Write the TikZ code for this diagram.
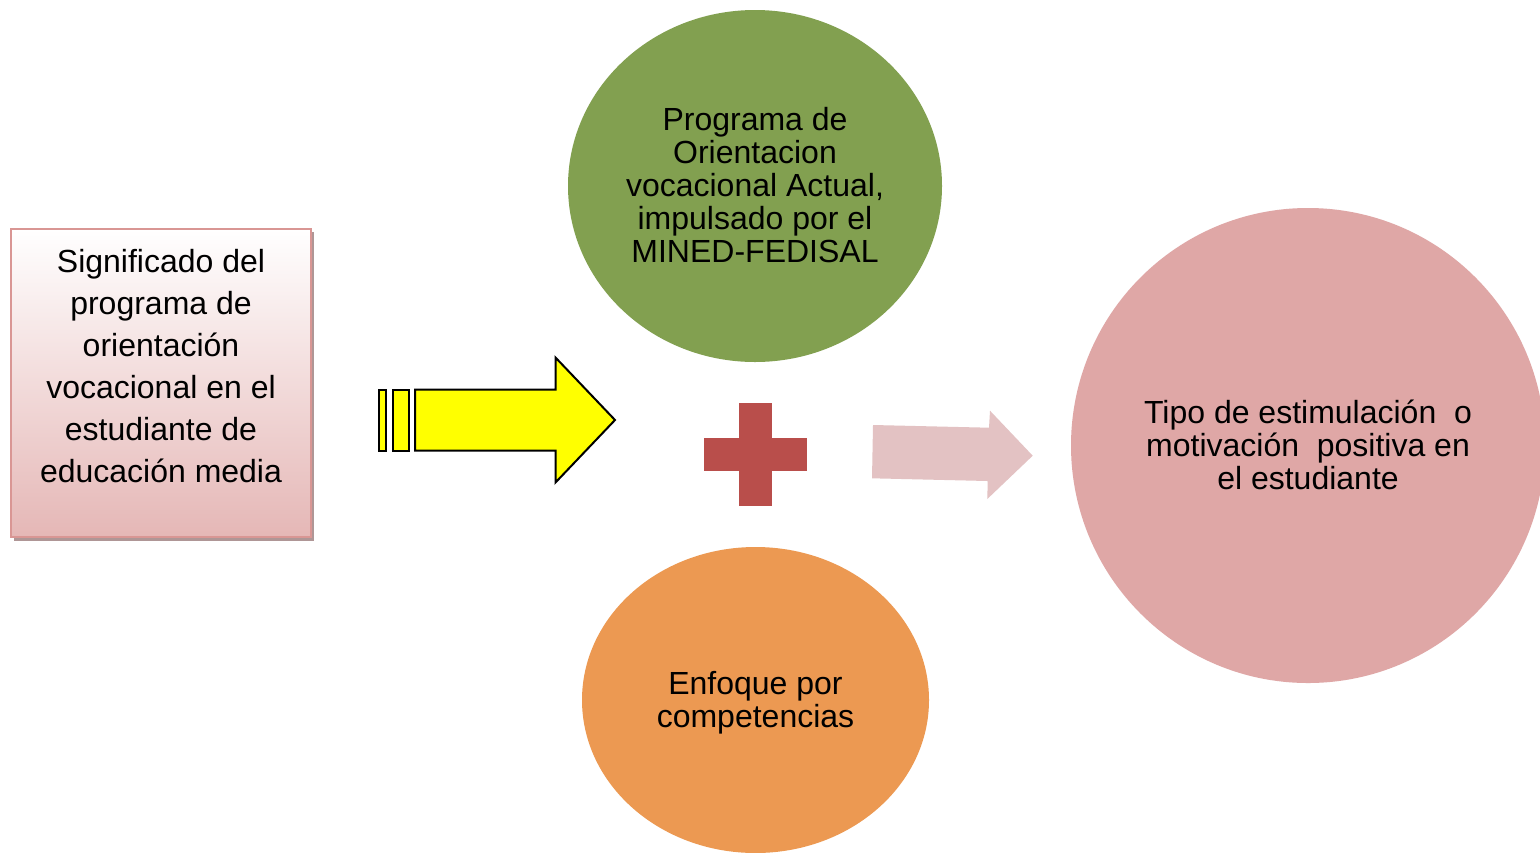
\documentclass[tikz,border=0pt]{standalone}
\usepackage{fontspec}
\setmainfont{Liberation Sans}
\usetikzlibrary{shapes.geometric}
\definecolor{greenc}{RGB}{130,160,80}
\definecolor{orangec}{RGB}{236,153,82}
\definecolor{pinkc}{RGB}{223,167,166}
\definecolor{plusc}{RGB}{185,78,75}
\definecolor{arrowpink}{RGB}{227,194,195}
\definecolor{boxborder}{RGB}{217,150,148}
\definecolor{boxbottom}{RGB}{229,183,182}
\definecolor{shadowc}{RGB}{175,150,150}
\definecolor{pureyellow}{RGB}{255,255,0}
\tikzset{
  bubble/.style={ellipse, inner sep=0pt, draw=none},
  bubbletext/.style={align=center, font=\fontsize{16}{16.5}\selectfont, text=black},
  boxtext/.style={align=center, font=\fontsize{16}{21}\selectfont, text=black},
  yarrow/.style={draw=black, line width=1pt, fill=pureyellow, line join=miter},
}
\begin{document}
\begin{tikzpicture}[x=0.5pt,y=-0.5pt]
\useasboundingbox (0,0) rectangle (1540,852);
\clip (0,0) rectangle (1540,852);
\fill[white] (0,0) rectangle (1540,852);

% left box with shadow
\fill[shadowc] (14,232) rectangle (314,541);
\node[draw=boxborder, line width=1pt, top color=white, bottom color=boxbottom,
      minimum width=150pt, minimum height=154pt, inner sep=0pt] (box) at (161,383) {};
\node[boxtext] (boxlabel) at (161,366) {Significado del\\programa de\\orientación\\vocacional en el\\estudiante de\\educación media};

% yellow striped arrow
\draw[yarrow] (378.5,389.5) rectangle (386,450.5);
\draw[yarrow] (393,389.5) rectangle (408.5,450.5);
\draw[yarrow] (415,389.5) -- (555.5,389.5) -- (555.5,357.5) -- (615,420) -- (555.5,482.5) -- (555.5,450.5) -- (415,450.5) -- cycle;

% green ellipse
\node[bubble, fill=greenc, minimum width=187pt, minimum height=176pt] (green) at (755,186) {};
\node[bubbletext] (greenlabel) at (755,185) {Programa de\\Orientacion\\vocacional Actual,\\impulsado por el\\MINED-FEDISAL};

% plus
\fill[plusc] (739,403) rectangle (772,506);
\fill[plusc] (704,438) rectangle (807,471);

% orange ellipse
\node[bubble, fill=orangec, minimum width=173.5pt, minimum height=153pt] (orange) at (755.5,700) {};
\node[bubbletext] (orangelabel) at (755.5,703) {Enfoque por\\competencias};

% pink arrow
\fill[arrowpink] (873,425) -- (989,427.7) -- (990,410.7) -- (1032.7,455.7) -- (987.3,499) -- (987.7,481) -- (872,478.3) -- cycle;

% pink circle
\node[bubble, fill=pinkc, minimum width=237pt, minimum height=237.5pt] (pink) at (1308,445.5) {};
\node[bubbletext] (pinklabel) at (1308,445) {Tipo de estimulación\ \ o\\motivación\ \ positiva en\\el estudiante};
\end{tikzpicture}
\end{document}
